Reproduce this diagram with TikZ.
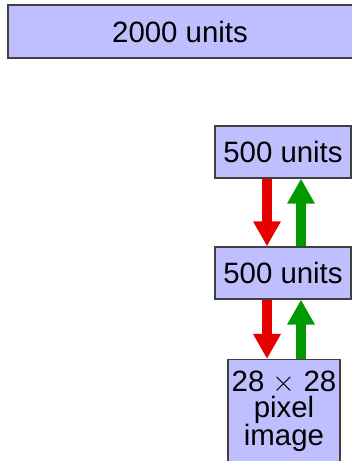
\documentclass[tikz,border=0pt]{standalone}
\usepackage{fix-cm}
\usepackage{fontspec}
\setmainfont{Liberation Sans}
\usetikzlibrary{arrows.meta}
\definecolor{boxfill}{RGB}{191,191,255}
\definecolor{upred}{RGB}{230,0,0}
\definecolor{upgreen}{RGB}{0,153,0}
\begin{document}
\begin{tikzpicture}[x=1pt,y=1pt,
  layer/.style={draw=black!75, line width=1.3pt, fill=boxfill, inner sep=0pt,
    font=\fontsize{29.4}{26}\selectfont},
  downarr/.style={draw=upred, line width=10pt, -{Triangle[width=26pt,length=25pt]}},
  uparr/.style={draw=upgreen, line width=10pt, -{Triangle[width=26pt,length=25pt]}}]
\useasboundingbox (0,0) rectangle (352,461);
\clip (0,0) rectangle (352,461);
\node[layer, minimum width=350pt, minimum height=53pt] (top) at (183,429.5) {\hspace*{-6pt}2000 units};
\node[layer, minimum width=136pt, minimum height=52pt] (h2) at (283,309) {500 units};
\node[layer, minimum width=136pt, minimum height=52pt] (h1) at (283,188) {500 units};
\node[layer, minimum width=112pt, minimum height=103pt, anchor=north, align=center] (img) at (284,102)
  {28 $\times$ 28\\pixel\\image};
\draw[downarr] ([xshift=-16pt]h2.south) -- ([xshift=-16pt]h1.north);
\draw[uparr] ([xshift=18pt]h1.north) -- ([xshift=18pt]h2.south);
\draw[downarr] ([xshift=-16pt]h1.south) -- ([xshift=-16pt]h1.south |- img.north);
\draw[uparr] ([xshift=18pt]h1.south |- img.north) -- ([xshift=18pt]h1.south);
\end{tikzpicture}
\end{document}
